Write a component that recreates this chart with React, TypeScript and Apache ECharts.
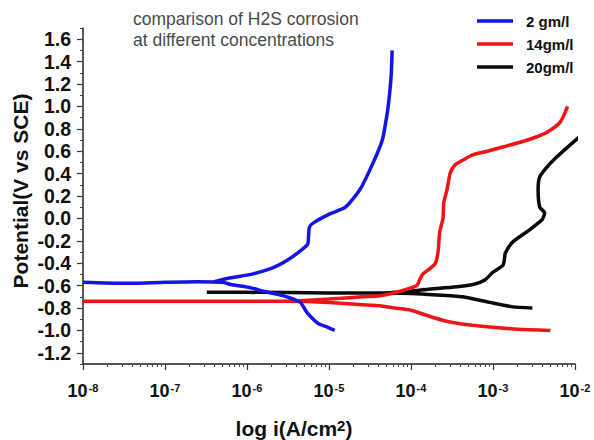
import React, { useEffect, useRef } from 'react';
import * as echarts from 'echarts';

const FONT = '"Liberation Sans", Arial, Helvetica, sans-serif';

// x axis: log10 of current density (A/cm2)
const X_TICKS = [-8, -7, -6, -5, -4, -3, -2];
const MINOR_MULT = [2, 3, 4, 5, 6, 7, 8, 9];
const Y_TICKS = [-1.2, -1.0, -0.8, -0.6, -0.4, -0.2, 0.0, 0.2, 0.4, 0.6, 0.8, 1.0, 1.2, 1.4, 1.6];

const LEGEND_NAMES = ['2 gm/l', '14gm/l', '20gm/l'];
const COLORS = ['#1414e6', '#f01414', '#0a0a0a'];

// 2 gm/l (blue)
const BLUE_CATH_LOGI = [-8, -7.5, -7, -6.6, -6.3, -6.2, -5.95, -5.8, -5.56, -5.35, -5.27, -5.13, -5.02, -4.93];
const BLUE_CATH_E = [-0.57, -0.58, -0.57, -0.565, -0.57, -0.59, -0.62, -0.65, -0.69, -0.75, -0.84, -0.94, -0.97, -1.0];
const BLUE_ANOD_LOGI = [-6.4, -6.2, -5.95, -5.68, -5.5, -5.35, -5.26, -5.24, -5.19, -4.99, -4.8, -4.62, -4.46, -4.35, -4.29, -4.26, -4.24, -4.23];
const BLUE_ANOD_E = [-0.565, -0.53, -0.5, -0.44, -0.37, -0.29, -0.23, -0.08, -0.04, 0.04, 0.1, 0.26, 0.5, 0.7, 0.94, 1.12, 1.3, 1.5];

// 14gm/l (red)
const RED_CATH_LOGI = [-8, -7, -6, -5.5, -5, -4.6, -4.38, -4.2, -4.0, -3.75, -3.49, -3.25, -3.04, -2.7, -2.3];
const RED_CATH_E = [-0.74, -0.74, -0.74, -0.74, -0.75, -0.77, -0.78, -0.8, -0.82, -0.88, -0.93, -0.955, -0.97, -0.99, -1.0];
const RED_ANOD_LOGI = [-5.5, -5.0, -4.6, -4.38, -4.13, -3.93, -3.89, -3.86, -3.71, -3.67, -3.65, -3.61, -3.6, -3.56, -3.52, -3.46, -3.37, -3.24, -3.07, -2.87, -2.67, -2.5, -2.34, -2.18, -2.09];
const RED_ANOD_E = [-0.74, -0.72, -0.7, -0.69, -0.65, -0.6, -0.54, -0.5, -0.41, -0.3, -0.12, 0.0, 0.14, 0.26, 0.41, 0.48, 0.52, 0.57, 0.6, 0.64, 0.68, 0.72, 0.77, 0.86, 1.0];

// 20gm/l (black)
const BLACK_CATH_LOGI = [-6.49, -6, -5, -4.5, -4.0, -3.77, -3.37, -3.04, -2.76, -2.52];
const BLACK_CATH_E = [-0.66, -0.66, -0.665, -0.665, -0.67, -0.68, -0.7, -0.75, -0.79, -0.8];
const BLACK_ANOD_LOGI = [-4.3, -4.0, -3.77, -3.5, -3.24, -3.1, -3.0, -2.88, -2.86, -2.85, -2.76, -2.55, -2.4, -2.37, -2.43, -2.45, -2.43, -2.34, -2.22, -2.1, -1.91];
const BLACK_ANOD_E = [-0.665, -0.65, -0.63, -0.615, -0.59, -0.55, -0.48, -0.42, -0.36, -0.31, -0.21, -0.1, -0.01, 0.05, 0.1, 0.26, 0.37, 0.46, 0.55, 0.63, 0.75];

const zip = (xs: number[], ys: number[]) => xs.map((x, i) => [x, ys[i]]);

function lineSeries(name: string, color: string, xs: number[], ys: number[], z: number) {
  return {
    name,
    type: 'line',
    xAxisIndex: 0,
    yAxisIndex: 0,
    data: zip(xs, ys),
    symbol: 'none',
    showSymbol: false,
    smooth: 0.2,
    clip: false,
    z,
    lineStyle: { color, width: 3.5 },
    itemStyle: { color },
  };
}

export default function App() {
  const ref = useRef<HTMLDivElement>(null);

  useEffect(() => {
    if (!ref.current) return;
    const chart = echarts.init(ref.current, null, { renderer: 'svg' });

    const minorTicks: number[] = [];
    X_TICKS.slice(0, -1).forEach((k) => MINOR_MULT.forEach((m) => minorTicks.push(k + Math.log10(m))));

    const axisLineStyle = { color: '#222', width: 1.5 };

    chart.setOption({
      animation: false,
      backgroundColor: '#fff',
      title: {
        text: 'comparison of H2S corrosion\nat different concentrations',
        left: 133,
        top: 8,
        padding: 0,
        textStyle: { fontFamily: FONT, fontSize: 17.5, fontWeight: 'normal', color: '#4a4a4a', lineHeight: 21 },
      },
      legend: {
        data: LEGEND_NAMES,
        orient: 'vertical',
        left: 477,
        top: 13,
        padding: 0,
        icon: 'rect',
        itemWidth: 36,
        itemHeight: 3.5,
        itemGap: 7,
        textStyle: { fontFamily: FONT, fontSize: 15, fontWeight: 'bold', color: '#111', padding: [0, 0, 0, 8], lineHeight: 16 },
      },
      grid: { left: 83, right: 19, top: 28, bottom: 76, containLabel: false },
      xAxis: [
        {
          type: 'value',
          min: -8,
          max: -2,
          interval: 1,
          position: 'bottom',
          axisLine: { show: true, onZero: false, lineStyle: axisLineStyle },
          axisTick: { show: true, length: 6, inside: false, lineStyle: { color: '#333', width: 1.2 } },
          splitLine: { show: false },
          axisLabel: {
            margin: 18,
            formatter: (v: number) => `{b|10}{s|${Math.round(v)}}`,
            rich: {
              b: { fontFamily: FONT, fontSize: 18, fontWeight: 'bold', color: '#111' },
              s: { fontFamily: FONT, fontSize: 11, fontWeight: 'bold', color: '#111', verticalAlign: 'top', padding: [0, 0, 0, 1] },
            },
          },
        },
        {
          type: 'value',
          min: -8,
          max: -2,
          position: 'bottom',
          axisLine: { show: false, onZero: false },
          axisTick: { show: true, length: 3, customValues: minorTicks, lineStyle: { color: '#444', width: 1 } },
          axisLabel: { show: false },
          splitLine: { show: false },
        },
      ],
      yAxis: [
        {
          type: 'value',
          min: -1.3,
          max: 1.7,
          position: 'left',
          axisLine: { show: true, onZero: false, lineStyle: axisLineStyle },
          axisTick: { show: true, length: 6, customValues: Y_TICKS, lineStyle: { color: '#333', width: 1.2 } },
          splitLine: { show: false },
          axisLabel: {
            customValues: Y_TICKS,
            margin: 12,
            formatter: (v: number) => (Math.round(v * 10) / 10).toFixed(1),
            fontFamily: FONT,
            fontSize: 19.5,
            fontWeight: 'bold',
            color: '#111',
          },
        },
        {
          type: 'value',
          min: -1.3,
          max: 1.7,
          interval: 0.1,
          position: 'left',
          axisLine: { show: false, onZero: false },
          axisTick: { show: true, length: 3, lineStyle: { color: '#444', width: 1 } },
          axisLabel: { show: false },
          splitLine: { show: false },
        },
      ],
      graphic: [
        {
          type: 'text',
          x: 20,
          y: 191,
          rotation: Math.PI / 2,
          style: {
            text: 'Potential(V vs SCE)',
            font: `bold 21px ${FONT}`,
            fill: '#111',
            align: 'center',
            verticalAlign: 'middle',
          },
        },
        {
          type: 'text',
          x: 294,
          y: 428,
          style: {
            text: '{a|log i(A/cm}{s|2}{a|)}',
            align: 'center',
            verticalAlign: 'middle',
            rich: {
              a: { fontFamily: FONT, fontSize: 21, fontWeight: 'bold', fill: '#111' },
              s: { fontFamily: FONT, fontSize: 15, fontWeight: 'bold', fill: '#111', verticalAlign: 'top' },
            },
          },
        },
      ],
      series: [
        lineSeries(LEGEND_NAMES[2], COLORS[2], BLACK_CATH_LOGI, BLACK_CATH_E, 2),
        lineSeries(LEGEND_NAMES[2], COLORS[2], BLACK_ANOD_LOGI, BLACK_ANOD_E, 2),
        lineSeries(LEGEND_NAMES[1], COLORS[1], RED_CATH_LOGI, RED_CATH_E, 3),
        lineSeries(LEGEND_NAMES[1], COLORS[1], RED_ANOD_LOGI, RED_ANOD_E, 3),
        lineSeries(LEGEND_NAMES[0], COLORS[0], BLUE_CATH_LOGI, BLUE_CATH_E, 4),
        lineSeries(LEGEND_NAMES[0], COLORS[0], BLUE_ANOD_LOGI, BLUE_ANOD_E, 4),
      ],
    });

    return () => chart.dispose();
  }, []);

  return <div ref={ref} style={{ position: 'fixed', left: 0, top: 0, width: 594, height: 440 }} />;
}
